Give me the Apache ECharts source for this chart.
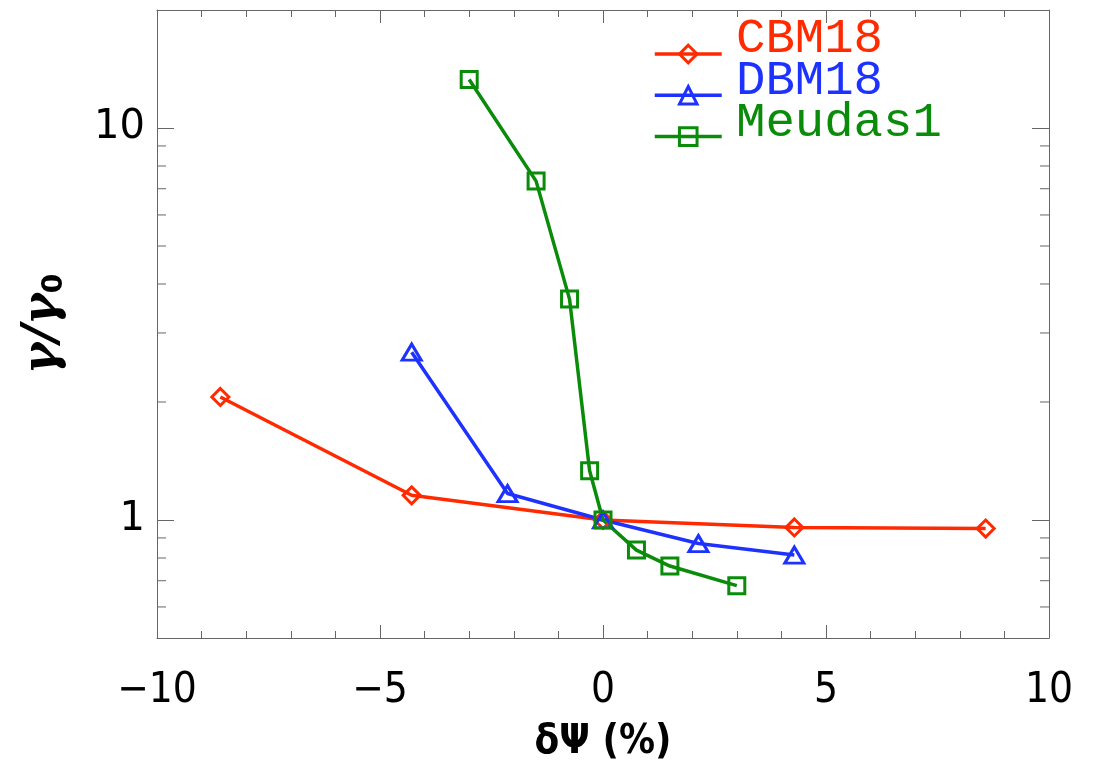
<!DOCTYPE html>
<html>
<head>
<meta charset="utf-8">
<script src="https://cdn.jsdelivr.net/npm/echarts@6/dist/echarts.min.js"></script>
<style>html,body{margin:0;padding:0;background:#fff;}#c{width:1093px;height:768px;}</style>
</head>
<body>
<div id="c"></div>
<script>
// ---- data ----
const cbmX = [-8.58, -4.29, 0, 4.29, 8.58];
const cbmY = [2.06, 1.156, 1.0, 0.957, 0.951];
const dbmX = [-4.29, -2.14, 0, 2.14, 4.29];
const dbmY = [2.68, 1.168, 1.0, 0.871, 0.814];
const meuX = [-3.0, -1.5, -0.75, -0.3, 0, 0.75, 1.5, 3.0];
const meuY = [13.3, 7.32, 3.66, 1.335, 1.0, 0.838, 0.763, 0.68];
const seriesNames = ['CBM18', 'DBM18', 'Meudas1'];
const xRange = [-10, 10];
const yRange = [0.5, 20];
const yMinorTicks = [0.6, 0.7, 0.8, 0.9, 2, 3, 4, 5, 6, 7, 8, 9];

const RED = '#ff2a00', BLUE = '#1e32ff', GREEN = '#0a8c0a';
const COLORS = [RED, BLUE, GREEN];
const AX = '#666';

function pairs(xs, ys) { return xs.map((x, i) => [x, ys[i]]); }

const chart = echarts.init(document.getElementById('c'));

const xCommon = {
  type: 'value', min: xRange[0], max: xRange[1], interval: 5,
  axisLine: { show: true, onZero: false, lineStyle: { color: AX, width: 1 } },
  axisTick: { show: true, inside: true, length: 13, lineStyle: { color: AX, width: 1 } },
  minorTick: { show: true, splitNumber: 5, length: 7, lineStyle: { color: AX, width: 1 } },
  splitLine: { show: false }, minorSplitLine: { show: false }
};
const yCommon = {
  type: 'log', logBase: 10, min: yRange[0], max: yRange[1],
  axisLine: { show: true, onZero: false, lineStyle: { color: AX, width: 1 } },
  axisTick: { show: true, inside: true, length: 17, lineStyle: { color: AX, width: 1 } },
  splitLine: { show: false }
};

function mkLine(name, data, color, symbol, size) {
  return {
    name: name, type: 'line', data: data,
    xAxisIndex: 0, yAxisIndex: 0,
    symbol: symbol, symbolSize: size, showAllSymbol: true,
    lineStyle: { color: color, width: 3.5 },
    itemStyle: { color: 'rgba(255,255,255,0)', borderColor: color, borderWidth: 3 },
    emphasis: { disabled: true },
    z: 3
  };
}

// legend text positions (label layout only)
const legendTextY = [41, 83, 125];

const option = {
  backgroundColor: '#fff',
  animation: false,
  grid: { left: 157, right: 44, top: 10, bottom: 128, containLabel: false },
  legend: {
    orient: 'vertical', left: 648, top: 38,
    itemWidth: 67, itemHeight: 22, itemGap: 20,
    selectedMode: false,
    formatter: function () { return ''; },
    textStyle: { fontSize: 1 },
    lineStyle: { width: 3.5 },
    itemStyle: { borderWidth: 3 },
    data: seriesNames
  },
  graphic: seriesNames.map((n, i) => ({
    type: 'text', left: 736, top: legendTextY[i] - 26, z: 10,
    style: { text: n, fill: COLORS[i], font: '49px "Liberation Mono", monospace' }
  })),
  xAxis: [
    Object.assign({}, xCommon, {
      position: 'bottom',
      name: 'δΨ (%)', nameLocation: 'middle', nameGap: 85,
      nameTextStyle: { fontFamily: 'DejaVu Sans Condensed', fontWeight: 'bold', fontSize: 40, color: '#000' },
      axisLabel: {
        show: true, margin: 32, fontFamily: 'Liberation Sans Narrow, DejaVu Sans Condensed, sans-serif', fontSize: 42, color: '#000',
        formatter: v => (v < 0 ? '\u2212' + Math.abs(v) : String(v))
      }
    }),
    Object.assign({}, xCommon, { position: 'top', axisLabel: { show: false } })
  ],
  yAxis: [
    Object.assign({}, yCommon, {
      position: 'left',
      name: '{a|γ/γ}{b|0}', nameLocation: 'middle', nameGap: 88, nameRotate: 90,
      nameTextStyle: {
        rich: {
          a: { fontFamily: 'DejaVu Serif', fontWeight: 'bold', fontStyle: 'italic', fontSize: 48, color: '#000' },
          b: { fontFamily: 'DejaVu Sans', fontWeight: 'bold', fontSize: 28, color: '#000', padding: [22, 0, 0, 0] }
        }
      },
      axisLabel: {
        show: true, margin: 12, fontFamily: 'DejaVu Sans', fontSize: 40, color: '#000',
        showMinLabel: false, showMaxLabel: false,
        formatter: v => String(Math.round(v * 1000) / 1000)
      }
    }),
    Object.assign({}, yCommon, { position: 'right', axisLabel: { show: false } })
  ],
  series: [
    mkLine('CBM18', pairs(cbmX, cbmY), RED, 'diamond', [17, 17]),
    mkLine('DBM18', pairs(dbmX, dbmY), BLUE, 'triangle', [19, 16]),
    mkLine('Meudas1', pairs(meuX, meuY), GREEN, 'rect', [16, 16]),
    {
      name: 'minorTicks', type: 'custom', xAxisIndex: 0, yAxisIndex: 0,
      silent: true, clip: false, z: 1,
      data: yMinorTicks.map(v => [xRange[0], v]),
      renderItem: function (params, api) {
        const v = api.value(1);
        const pL = api.coord([xRange[0], v]);
        const pR = api.coord([xRange[1], v]);
        return {
          type: 'group', children: [
            { type: 'line', shape: { x1: pL[0], y1: pL[1], x2: pL[0] + 9, y2: pL[1] }, style: { stroke: AX, lineWidth: 1 } },
            { type: 'line', shape: { x1: pR[0], y1: pR[1], x2: pR[0] - 9, y2: pR[1] }, style: { stroke: AX, lineWidth: 1 } }
          ]
        };
      }
    }
  ]
};
chart.setOption(option);
</script>
</body>
</html>
